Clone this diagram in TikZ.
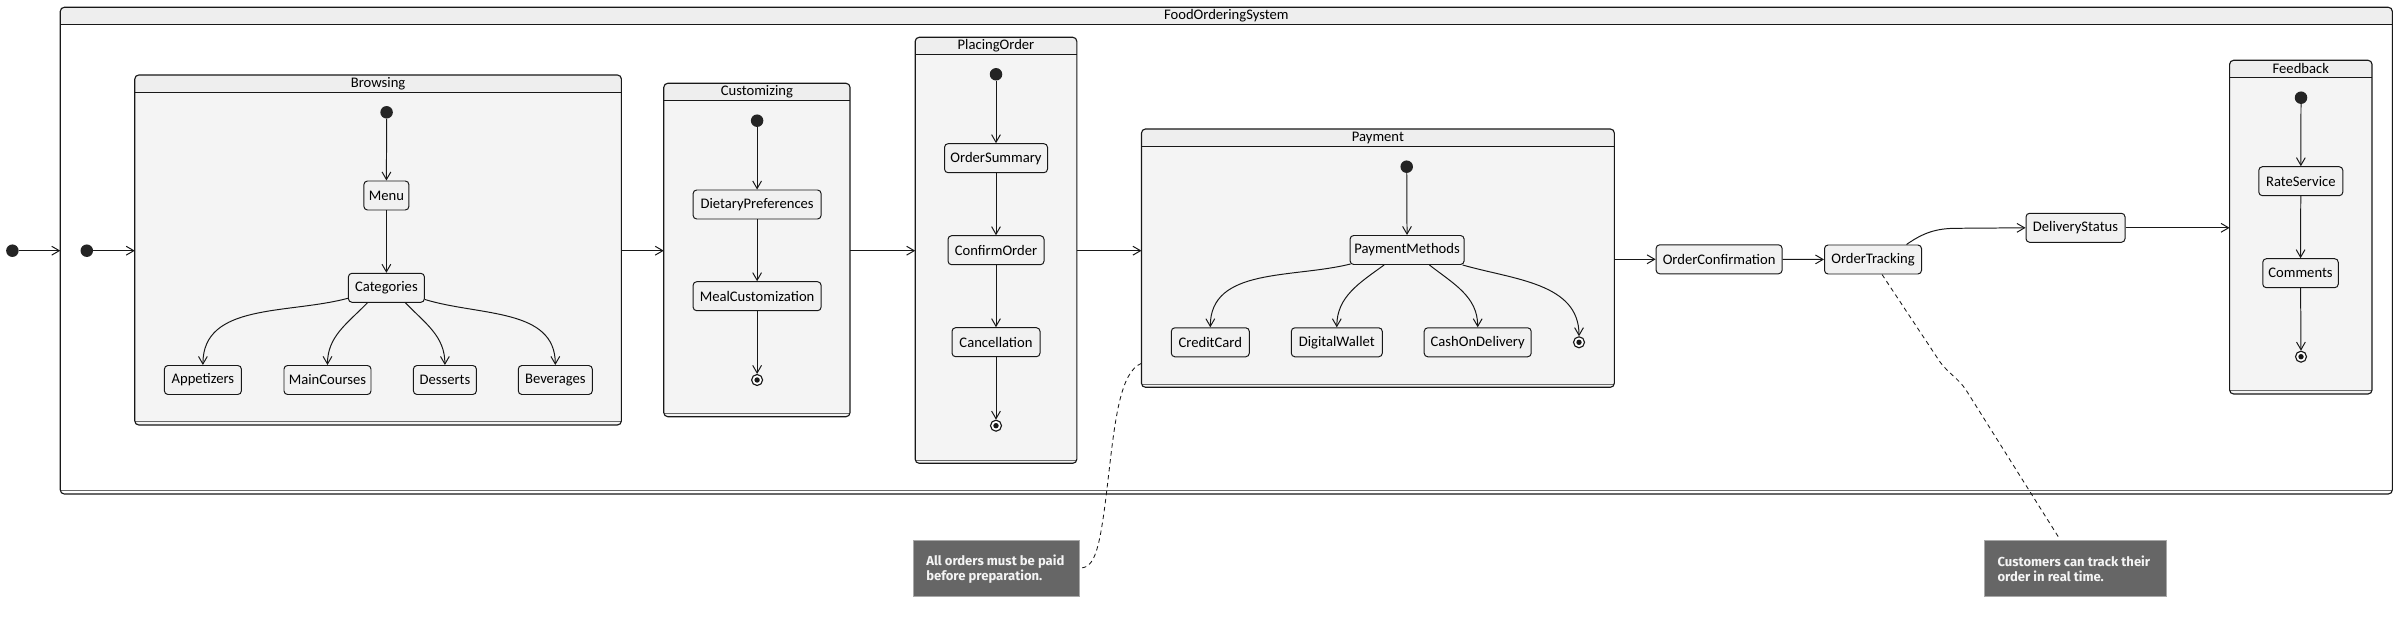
\documentclass[tikz,border=0pt]{standalone}
\usepackage{fontspec}
\setmainfont{Carlito}
\newfontfamily\notefont{Fira Sans}
\usetikzlibrary{arrows.meta,calc}
\definecolor{bd}{HTML}{181818}
\definecolor{stfill}{HTML}{F1F1F1}
\definecolor{bodyc}{HTML}{F4F4F4}
\definecolor{hdr}{HTML}{EEEEEE}
\definecolor{notefill}{HTML}{666666}
\definecolor{noteline}{HTML}{A8A8A8}
\definecolor{notetext}{HTML}{F4F4F4}
\def\px{0.25mm}
\newcommand{\stfont}{\fontsize{10.4}{12}\selectfont}
\newcommand{\compbox}[7]{%
 \node[cbox, minimum width=#4*\px, minimum height=#5*\px] (#1) at (#2,#3) {};
 \begin{scope}
  \clip[rounded corners=1mm] (#1.north west) rectangle (#1.south east);
  \fill[#7] (#1.north west) rectangle (#1.south east);
  \fill[hdr] (#1.north west) rectangle ($(#1.north east)+(0,17)$);
 \end{scope}
 \draw[bd, line width=0.65pt] ($(#1.north west)+(0,17)$) -- ($(#1.north east)+(0,17)$);
 \draw[bd!65!white, line width=0.7pt] ($(#1.south west)+(0,-3.3)$) -- ($(#1.south east)+(0,-3.3)$);
 \draw[bd, line width=0.8pt, rounded corners=1mm] (#1.north west) rectangle (#1.south east);
 \node[font=\stfont, inner sep=0pt] (#1t) at ($(#1.north)+(0,8.5)$) {#6};
}
\begin{document}
\begin{tikzpicture}[x=0.25mm,y=-0.25mm,
  st/.style={draw=bd, fill=stfill, line width=0.7pt, rounded corners=0.9mm, minimum height=29*\px, inner sep=0pt, font=\stfont},
  cbox/.style={draw=none, inner sep=0pt, outer sep=0pt, anchor=north west},
  tr/.style={draw=bd, line width=0.7pt, -{Straight Barb[length=1.9mm,width=2.2mm]}},
  ini/.style={circle, fill=bd!95!white, inner sep=0pt, minimum size=12.5*\px},
  fin/.style={circle, draw=bd, line width=0.8pt, fill=white, inner sep=0pt, minimum size=11*\px},
  note/.style={draw=noteline, fill=notefill, line width=0.7pt, inner sep=0pt, minimum height=56*\px},
  notetxt/.style={text=notetext, align=left, inner sep=0pt, anchor=west, font=\notefont\bfseries\fontsize{9.3}{10.7}\selectfont},
  notelink/.style={draw=bd, line width=0.6pt, dash pattern=on 1.1mm off 0.9mm}
]
\useasboundingbox (0,0) rectangle (2400,632);

% composite states
\compbox{outer}{60.3}{7.3}{2332}{486.7}{FoodOrderingSystem}{white}
\compbox{browsing}{134.8}{75}{486.6}{350}{Browsing}{bodyc}
\compbox{custom}{663.8}{83.3}{186.2}{333.4}{Customizing}{bodyc}
\compbox{placing}{915.2}{37.3}{161.6}{426}{PlacingOrder}{bodyc}
\compbox{payment}{1141.5}{129}{472.8}{258.3}{Payment}{bodyc}
\compbox{feedback}{2229.6}{60.3}{142.4}{333.7}{Feedback}{bodyc}

% initial / final states
\node[ini] (i0) at (12.4,250.7) {};
\node[ini] (i1) at (86.8,250.7) {};
\node[ini] (ib) at (386.6,112.3) {};
\node[ini] (ic) at (757.1,120.7) {};
\node[ini] (ip) at (996,74.3) {};
\node[ini] (ipay) at (1406.7,166.7) {};
\node[ini] (if) at (2301,97.7) {};
\node[fin] (fc) at (757.1,380) {};
\node[fin] (fp) at (996,425.7) {};
\node[fin] (fpay) at (1579,342.3) {};
\node[fin] (ff) at (2301,356.7) {};
\foreach \f in {fc,fp,fpay,ff}{\fill[bd] (\f.center) circle (2.7);}

% simple states
\node[st, minimum width=45*\px] (menu) at (386.4,195.5) {Menu};
\node[st, minimum width=76*\px] (cat) at (386.4,287.8) {Categories};
\node[st, minimum width=77*\px] (app) at (202.9,380) {Appetizers};
\node[st, minimum width=87*\px] (mc) at (327.5,380) {MainCourses};
\node[st, minimum width=63*\px] (des) at (444.9,380) {Desserts};
\node[st, minimum width=74*\px] (bev) at (555.3,380) {Beverages};
\node[st, minimum width=128*\px] (diet) at (757.1,204.5) {DietaryPreferences};
\node[st, minimum width=128*\px] (meal) at (757.1,296.2) {MealCustomization};
\node[st, minimum width=103*\px] (osum) at (996,158.2) {OrderSummary};
\node[st, minimum width=96*\px] (conf) at (996,250.2) {ConfirmOrder};
\node[st, minimum width=88*\px] (canc) at (996,342.2) {Cancellation};
\node[st, minimum width=114*\px] (pm) at (1407.1,250) {PaymentMethods};
\node[st, minimum width=78*\px] (cc) at (1210.3,342.3) {CreditCard};
\node[st, minimum width=91*\px] (dw) at (1336.8,342.3) {DigitalWallet};
\node[st, minimum width=107*\px] (cod) at (1477.7,342.3) {CashOnDelivery};
\node[st, minimum width=126*\px] (oc) at (1719.1,259.3) {OrderConfirmation};
\node[st, minimum width=97*\px] (ot) at (1873,259.5) {OrderTracking};
\node[st, minimum width=99*\px] (ds) at (2075.5,227.8) {DeliveryStatus};
\node[st, minimum width=84*\px] (rate) at (2300.8,181.2) {RateService};
\node[st, minimum width=75.5*\px] (comm) at (2300.5,273.2) {Comments};

% transitions
\draw[tr] (i0) -- (outer.west |- i0);
\draw[tr] (i1) -- (browsing.west |- i1);
\draw[tr] (ib) -- (menu);
\draw[tr] (menu) -- (cat);
\draw[tr] ($(cat.south west)+(0,-4.5)$) to[out=195,in=90] (app.north);
\draw[tr] ($(cat.south)+(-19,0)$) to[out=226,in=90] (mc.north);
\draw[tr] ($(cat.south)+(19,0)$) to[out=-46,in=90] (des.north);
\draw[tr] ($(cat.south east)+(0,-3.3)$) to[out=-17,in=90] (bev.north);
\draw[tr] (browsing.east |- i1) -- (custom.west |- i1);
\draw[tr] (ic) -- (diet);
\draw[tr] (diet) -- (meal);
\draw[tr] (meal) -- (fc);
\draw[tr] (custom.east |- i1) -- (placing.west |- i1);
\draw[tr] (ip) -- (osum);
\draw[tr] (osum) -- (conf);
\draw[tr] (conf) -- (canc);
\draw[tr] (canc) -- (fp);
\draw[tr] (placing.east |- i1) -- (payment.west |- i1);
\draw[tr] (ipay) -- (pm);
\draw[tr] ($(pm.south west)+(1,-1)$) to[out=194,in=90] (cc.north);
\draw[tr] ($(pm.south)+(-23,0)$) to[out=216,in=90] (dw.north);
\draw[tr] ($(pm.south)+(22.3,0)$) to[out=-38,in=90] (cod.north);
\draw[tr] ($(pm.south east)+(-2,0)$) to[out=-16,in=90] (fpay.north);
\draw[tr] (payment.east |- oc) -- (oc.west);
\draw[tr] (oc) -- (ot);
\draw[tr] ($(ot.north east)+(-15.5,0)$) to[out=35,in=180] (1957,228.3) -- (ds.west);
\draw[tr] (ds.east) -- (feedback.west |- ds);
\draw[tr] (if) -- (rate);
\draw[tr] (rate) -- (comm);
\draw[tr] (comm) -- (ff);

% notes
\node[note, minimum width=166*\px] (n1) at (996.3,568) {};
\node[notetxt] (n1t) at (926,569) {All orders must be paid\\before preparation.};
\node[note, minimum width=181.6*\px] (n2) at (2075.5,568) {};
\node[notetxt] (n2t) at (1997.3,569) {Customers can track their\\order in real time.};

\draw[notelink] ($(payment.south west)+(0,-24)$) .. controls (1120,372) and (1115,420) .. (1108,480) .. controls (1100,550) and (1095,568) .. (n1.east);
\draw[notelink] ($(ot.south)+(9,0)$) -- (1940,362) .. controls (1950,375) and (1958,378) .. (1966,390) -- ($(n2.north)+(-15.5,0)$);
\end{tikzpicture}
\end{document}
